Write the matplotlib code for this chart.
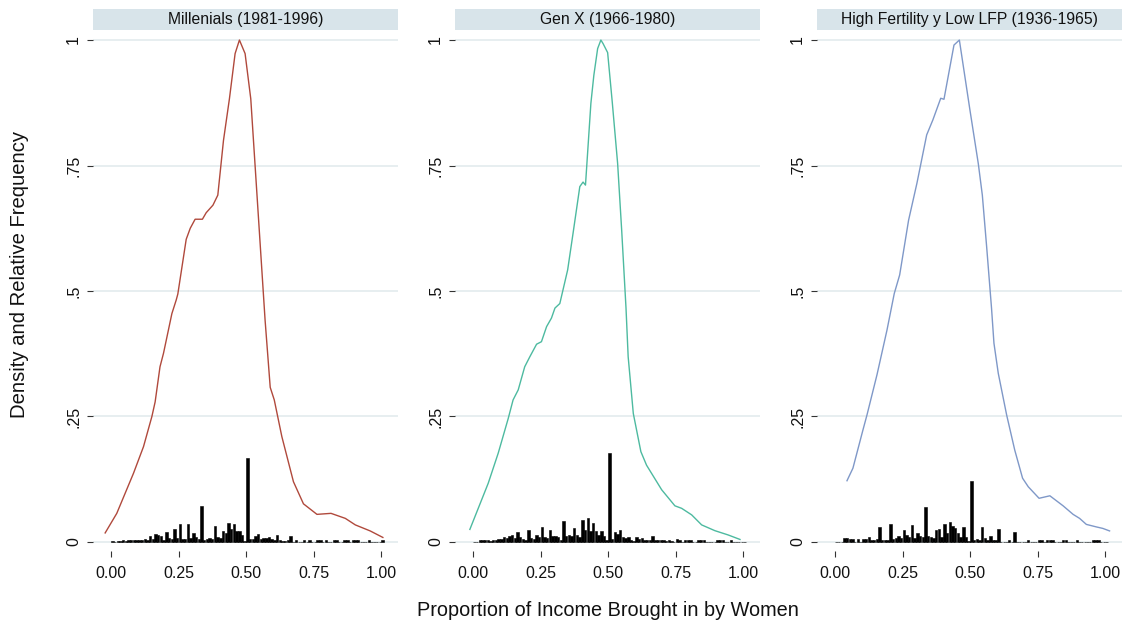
import matplotlib
matplotlib.use("Agg")
import matplotlib.pyplot as plt
from matplotlib.patches import Rectangle
import numpy as np

plt.rcParams['font.family'] = ['Liberation Sans', 'DejaVu Sans']

# panel titles and colours
titles = ["Millenials (1981-1996)", "Gen X (1966-1980)", "High Fertility y Low LFP (1936-1965)"]
colors = ["#b0493c", "#4dbaa0", "#7f98c8"]

# density curves (scaled so the peak is 1)
x_mill = [-0.022, 0.021, 0.083, 0.120, 0.151, 0.163, 0.181, 0.194, 0.225, 0.241, 0.247, 0.278,
          0.293, 0.311, 0.338, 0.352, 0.377, 0.395, 0.416, 0.438, 0.459, 0.475, 0.496, 0.517,
          0.570, 0.589, 0.604, 0.632, 0.675, 0.712, 0.762, 0.814, 0.867, 0.904, 0.959, 1.006]
y_mill = [0.018, 0.057, 0.137, 0.190, 0.250, 0.279, 0.349, 0.376, 0.455, 0.482, 0.494, 0.603,
          0.625, 0.643, 0.643, 0.656, 0.671, 0.691, 0.800, 0.883, 0.973, 1.000, 0.973, 0.883,
          0.442, 0.308, 0.283, 0.210, 0.120, 0.076, 0.055, 0.057, 0.047, 0.034, 0.022, 0.009]

x_genx = [-0.012, 0.056, 0.093, 0.130, 0.148, 0.167, 0.191, 0.210, 0.235, 0.253, 0.272, 0.290,
          0.303, 0.321, 0.350, 0.370, 0.395, 0.407, 0.416, 0.436, 0.447, 0.461, 0.473, 0.481,
          0.498, 0.515, 0.535, 0.550, 0.566, 0.574, 0.593, 0.621, 0.642, 0.698, 0.747, 0.772,
          0.809, 0.846, 0.895, 0.944, 0.988]
y_genx = [0.025, 0.117, 0.177, 0.246, 0.283, 0.303, 0.349, 0.369, 0.394, 0.399, 0.429, 0.446,
          0.466, 0.475, 0.542, 0.615, 0.708, 0.717, 0.711, 0.874, 0.930, 0.983, 1.000, 0.993,
          0.975, 0.877, 0.754, 0.621, 0.466, 0.369, 0.256, 0.180, 0.153, 0.104, 0.072, 0.067,
          0.054, 0.034, 0.0225, 0.014, 0.005]

x_high = [0.044, 0.066, 0.103, 0.118, 0.155, 0.192, 0.219, 0.239, 0.272, 0.303, 0.339, 0.362,
          0.391, 0.403, 0.440, 0.460, 0.499, 0.530, 0.545, 0.561, 0.579, 0.588, 0.604, 0.635,
          0.665, 0.694, 0.715, 0.755, 0.795, 0.844, 0.881, 0.905, 0.930, 0.967, 0.991, 1.016]
y_high = [0.122, 0.147, 0.223, 0.253, 0.333, 0.422, 0.495, 0.532, 0.641, 0.715, 0.811, 0.841,
          0.884, 0.882, 0.990, 1.000, 0.861, 0.754, 0.691, 0.588, 0.466, 0.396, 0.336, 0.253,
          0.183, 0.127, 0.110, 0.087, 0.092, 0.072, 0.055, 0.047, 0.035, 0.030, 0.027, 0.022]

# relative frequency per 0.01 bin, bins 0.00 .. 1.00
bins = np.round(np.arange(101) * 0.01, 2)
freq_mill = [0.002, 0, 0.002, 0.002, 0.003, 0.002, 0.003, 0.004, 0.003, 0.003,
             0.004, 0.003, 0.005, 0.004, 0.012, 0.005, 0.015, 0.013, 0.011, 0.003,
             0.019, 0.008, 0.006, 0.025, 0.008, 0.035, 0.006, 0.005, 0.035, 0.008,
             0.017, 0.010, 0.005, 0.071, 0.004, 0.005, 0.007, 0.006, 0.031, 0.010,
             0.008, 0.022, 0.018, 0.038, 0.025, 0.035, 0.022, 0.022, 0.013, 0.002,
             0.168, 0.005, 0.006, 0.012, 0.015, 0.006, 0.007, 0.008, 0.009, 0.005,
             0.003, 0.013, 0.003, 0.002, 0.002, 0.003, 0.012, 0, 0.003, 0,
             0, 0.003, 0, 0.003, 0, 0, 0.003, 0.003, 0, 0.003,
             0, 0, 0.003, 0.003, 0, 0, 0.003, 0.003, 0, 0.003,
             0.003, 0.003, 0, 0, 0, 0.003, 0, 0, 0, 0,
             0.003]
freq_genx = [0, 0, 0.003, 0.004, 0.004, 0.004, 0.002, 0.004, 0.003, 0.005,
             0.006, 0.009, 0.007, 0.012, 0.014, 0.008, 0.019, 0.010, 0.006, 0.004,
             0.023, 0.008, 0.005, 0.013, 0.010, 0.029, 0.010, 0.008, 0.023, 0.012,
             0.012, 0.009, 0.004, 0.041, 0.012, 0.014, 0.011, 0.027, 0.014, 0.010,
             0.044, 0.024, 0.047, 0.021, 0.037, 0.021, 0.014, 0.022, 0.011, 0.003,
             0.178, 0.006, 0.019, 0.016, 0.023, 0.010, 0.007, 0.009, 0.003, 0.002,
             0.009, 0.006, 0.007, 0.004, 0.004, 0.003, 0.012, 0.003, 0.003, 0.003,
             0.003, 0.002, 0.004, 0.002, 0, 0.005, 0.003, 0, 0.003, 0.003,
             0.003, 0, 0, 0.003, 0.003, 0.003, 0, 0, 0, 0,
             0.003, 0.003, 0.003, 0, 0, 0.003, 0, 0, 0, 0,
             0]
freq_high = [0, 0, 0, 0.007, 0.008, 0.006, 0.005, 0, 0.005, 0,
             0.005, 0.006, 0.009, 0.003, 0.004, 0.006, 0.029, 0.004, 0.003, 0.004,
             0.036, 0.005, 0.007, 0.012, 0.008, 0.024, 0.014, 0.010, 0.033, 0.008,
             0.017, 0.012, 0.009, 0.070, 0.012, 0.010, 0.008, 0.024, 0.026, 0.010,
             0.035, 0.017, 0.040, 0.031, 0.027, 0.018, 0.010, 0.029, 0.009, 0.002,
             0.121, 0.004, 0.005, 0.004, 0.029, 0.008, 0.004, 0.011, 0.004, 0.003,
             0.026, 0, 0, 0, 0.003, 0, 0.019, 0, 0, 0,
             0, 0.003, 0, 0, 0, 0.004, 0.003, 0, 0.003, 0.003,
             0.003, 0, 0, 0, 0.004, 0.003, 0, 0, 0, 0.003,
             0, 0, 0, 0, 0, 0.003, 0.003, 0.003, 0, 0,
             0]

curves = [(x_mill, y_mill), (x_genx, y_genx), (x_high, y_high)]
freqs = [freq_mill, freq_genx, freq_high]

xticks = [0, 0.25, 0.5, 0.75, 1.0]
xticklabels = ["0.00", "0.25", "0.50", "0.75", "1.00"]
yticks = [0, 0.25, 0.5, 0.75, 1.0]
yticklabels = ["0", ".25", ".5", ".75", "1"]

W, H = 1123, 624
fig = plt.figure(figsize=(W / 100, H / 100), dpi=100)

lefts = [93, 455, 817]
ax_w, ax_top, ax_bot = 305, 30, 551
strip_h = 21

for i in range(3):
    ax = fig.add_axes([lefts[i] / W, (H - ax_bot) / H, ax_w / W, (ax_bot - ax_top) / H])
    ax.set_xlim(-0.067, 1.062)
    ax.set_ylim(-0.018, 1.02)
    for yv in yticks:
        ax.axhline(yv, color="#e3ebee", lw=1.2, zorder=0)
    ax.bar(bins, freqs[i], width=0.009, align="edge", color="black",
           edgecolor="black", linewidth=0.4, zorder=2)
    ax.plot(curves[i][0], curves[i][1], color=colors[i], lw=1.0, zorder=3)

    for s in ax.spines.values():
        s.set_visible(False)
    ax.set_xticks(xticks)
    ax.set_xticklabels(xticklabels, fontsize=11.5)
    ax.set_yticks(yticks)
    ax.set_yticklabels(yticklabels, fontsize=11.5, rotation=90, va="center")
    ax.tick_params(axis="both", direction="out", length=4.5, width=0.8, color="#333333",
                   labelcolor="#111111")
    ax.tick_params(axis="x", pad=6)
    ax.tick_params(axis="y", pad=4)

    frac = strip_h / (ax_bot - ax_top)
    ax.add_patch(Rectangle((0, 1), 1, frac, transform=ax.transAxes, clip_on=False,
                           facecolor="#d8e4ea", edgecolor="none"))
    ax.text(0.5, 1 + frac / 2, titles[i], transform=ax.transAxes, ha="center", va="center",
            fontsize=11.3, color="#111111")

fig.text(608 / W, 1 - 610 / H, "Proportion of Income Brought in by Women", ha="center",
         va="center", fontsize=14.3, color="#111111")
fig.text(20 / W, 1 - 275 / H, "Density and Relative Frequency", ha="center", va="center",
         rotation=90, fontsize=14.6, color="#111111")

fig.savefig("out.png", dpi=100, facecolor="white")
